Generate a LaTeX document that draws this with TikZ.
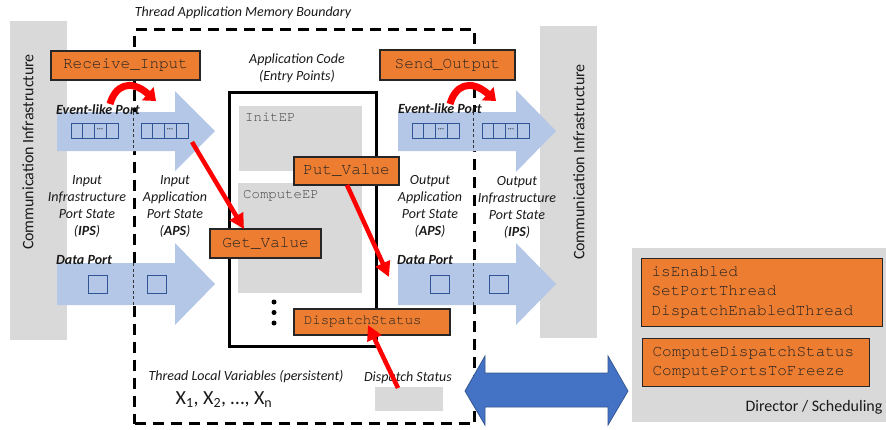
\documentclass[tikz,border=0pt]{standalone}
\usepackage{fontspec}
\setmainfont{Carlito}
\setmonofont{TeX Gyre Cursor}
\usetikzlibrary{arrows.meta}
\definecolor{orng}{HTML}{ED7D31}
\definecolor{lblue}{HTML}{B4C7E7}
\definecolor{dblue}{HTML}{4472C4}
\definecolor{qblue}{HTML}{2F5597}
\definecolor{lgray}{HTML}{D9D9D9}
\definecolor{txt}{HTML}{1A1A1A}
\definecolor{mtxt}{HTML}{222222}
\newcommand\myqueue[3]{%
  \node[qbox, anchor=north west, minimum width=47pt, minimum height=15pt] (#1) at (#2,#3) {};
  \draw[qline] ({#2+11.5},{#3}) -- ({#2+11.5},{#3+15});
  \draw[qline] ({#2+23},{#3}) -- ({#2+23},{#3+15});
  \draw[qline] ({#2+35},{#3}) -- ({#2+35},{#3+15});
  \node[font=\fontsize{8}{8}\selectfont, text=txt, inner sep=0pt] (#1dots) at ({#2+29},{#3+7.5}) {···};
}
\begin{document}
\begin{tikzpicture}[x=1pt,y=-1pt,
  graybox/.style={fill=lgray, draw=none, inner sep=0pt},
  obox/.style={fill=orng, draw=black!85, line width=1.1pt, text=mtxt, inner sep=0pt,
    font=\fontsize{16}{19.5}\selectfont\ttfamily},
  lbl/.style={font=\fontsize{14}{17}\selectfont\itshape, align=center, text=txt, inner sep=0pt},
  blbl/.style={font=\fontsize{14}{17}\selectfont\bfseries\itshape, text=txt, inner sep=0pt},
  qbox/.style={draw=qblue, line width=0.9pt, fill=none, inner sep=0pt},
  qline/.style={draw=qblue, line width=0.9pt},
  bnd/.style={draw=black, line width=3pt, dash pattern=on 11pt off 7pt, fill=none, inner sep=0pt},
  thindash/.style={draw=black!80, line width=0.7pt, dash pattern=on 3pt off 2.5pt},
  redarr/.style={draw=red, line width=4.5pt, -{Triangle[length=15pt,width=15pt]}},
  curvarr/.style={draw=red, line width=7pt, -{Triangle[length=11pt,width=17pt]}},
  bigarrow/.style={fill=lblue, draw=none},
  mono14/.style={font=\fontsize{14}{17}\selectfont\ttfamily, text=mtxt!85, inner sep=0pt},
]
\useasboundingbox (0,0) rectangle (886,429);

% communication infrastructure
\node[graybox, anchor=north west, minimum width=57pt, minimum height=319pt] (commL) at (10,21) {};
\node[graybox, anchor=north west, minimum width=57pt, minimum height=312pt] (commR) at (540,26) {};
\node[rotate=90, font=\fontsize{16}{19}\selectfont, text=txt, inner sep=0pt] (commLt) at (28,152) {Communication Infrastructure};
\node[rotate=90, font=\fontsize{16}{19}\selectfont, text=txt, inner sep=0pt] (commRt) at (579,162) {Communication Infrastructure};

% boundary
\node[bnd, anchor=north west, minimum width=340pt, minimum height=394pt] (tab) at (133,28) {};
\node[lbl] (tabt) at (243,13) {Thread Application Memory Boundary};

% big light blue arrows
\path[bigarrow] (57,112) -- (175,112) -- (175,91) -- (215,131) -- (175,171) -- (175,151) -- (57,151) -- cycle;
\path[bigarrow] (398,112) -- (516,112) -- (516,90) -- (556,131) -- (516,172) -- (516,151) -- (398,151) -- cycle;
\path[bigarrow] (57,263) -- (175,263) -- (175,243) -- (215,284) -- (175,325) -- (175,305) -- (57,305) -- cycle;
\path[bigarrow] (398,263) -- (516,263) -- (516,243) -- (556,284) -- (516,325) -- (516,305) -- (398,305) -- cycle;
\draw[thindash] (133,112) -- (133,151);
\draw[thindash] (133,263) -- (133,305);
\draw[thindash] (473,112) -- (473,151);
\draw[thindash] (473,263) -- (473,305);

% queues and data ports
\myqueue{q1}{71}{123}
\myqueue{q2}{141}{123}
\myqueue{q3}{412}{123}
\myqueue{q4}{482}{123}
\node[qbox, anchor=north west, minimum width=19pt, minimum height=18pt] (d1) at (88,275) {};
\node[qbox, anchor=north west, minimum width=19pt, minimum height=18pt] (d2) at (147,275) {};
\node[qbox, anchor=north west, minimum width=19pt, minimum height=18pt] (d3) at (430,275) {};
\node[qbox, anchor=north west, minimum width=19pt, minimum height=18pt] (d4) at (489,275) {};

\node[blbl] (evL) at (98,110) {Event-like Port};
\node[blbl] (evR) at (440,109) {Event-like Port};
\node[blbl] (dpL) at (84,260) {Data Port};
\node[blbl] (dpR) at (425,260) {Data Port};

\node[lbl] (ips1) at (87,206) {Input\\Infrastructure\\Port State\\(\textbf{IPS})};
\node[lbl] (aps1) at (175,206) {Input\\Application\\Port State\\(\textbf{APS})};
\node[lbl] (aps2) at (430,206) {Output\\Application\\Port State\\(\textbf{APS})};
\node[lbl] (ips2) at (517,207) {Output\\Infrastructure\\Port State\\(\textbf{IPS})};

% application code
\node[lbl] (appt) at (297,68) {Application Code\\(Entry Points)};
\node[draw=black, line width=3pt, fill=white, anchor=north west, minimum width=147pt, minimum height=254pt, inner sep=0pt] (app) at (228,91) {};
\node[graybox, anchor=north west, minimum width=123pt, minimum height=65pt] (init) at (239,106) {};
\node[graybox, anchor=north west, minimum width=124pt, minimum height=110pt] (comp) at (238,183) {};
\node[mono14, anchor=west] (initt) at (245,117) {InitEP};
\node[mono14, anchor=west] (compt) at (243,196) {ComputeEP};
\foreach \yy/\nm in {302/da,312.5/db,323/dc}
  \node[circle, fill=black, minimum size=5pt, inner sep=0pt] (\nm) at (274,\yy) {};

% orange boxes
\node[obox, minimum width=149pt, minimum height=29pt] (ri) at (125.5,65.5) {Receive\_Input};
\node[obox, minimum width=135pt, minimum height=30pt] (so) at (447.5,65) {Send\_Output};
\node[obox, minimum width=105pt, minimum height=28pt] (pv) at (346.5,171) {Put\_Value};
\node[obox, minimum width=111pt, minimum height=29pt] (gv) at (265.5,243.5) {Get\_Value};
\node[obox, font=\fontsize{14}{17}\selectfont\ttfamily, inner xsep=10pt, text width=136pt, align=left, minimum height=26pt] (ds) at (372,322) {DispatchStatus};

% thread local vars
\node[lbl] (tlv) at (246,377) {Thread Local Variables (persistent)};
\node[font=\fontsize{20}{24}\selectfont, text=txt, inner sep=0pt] (xs) at (224,400) {X\textsubscript{1}, X\textsubscript{2}, …, X\textsubscript{n}};
\node[lbl] (dst) at (408,378) {Dispatch Status};
\node[graybox, anchor=north west, minimum width=68pt, minimum height=24pt] (dsv) at (375,387) {};

% director
\node[graybox, anchor=north west, minimum width=254pt, minimum height=174pt] (dir) at (632,248) {};
\node[font=\fontsize{16}{19}\selectfont, text=txt, inner sep=0pt] (dirt) at (814,407) {Director / Scheduling};
\node[obox, anchor=north west, inner xsep=10pt, text width=221pt, align=left, minimum height=68pt] (db1) at (641,258) {isEnabled\\SetPortThread\\DispatchEnabledThread};
\node[obox, anchor=north west, inner xsep=10pt, text width=207pt, align=left, minimum height=48pt] (db2) at (642,338) {ComputeDispatchStatus\\ComputePortsToFreeze};

% double arrow
\path[fill=dblue, draw=dblue!75!black, line width=0.8pt] (465,391) -- (485,356) -- (485,373) -- (608,373) -- (608,356) -- (628,391) -- (608,425) -- (608,407) -- (485,407) -- (485,425) -- cycle;

% red arrows
\coordinate (riS) at (110,104);
\coordinate (riE) at (156,101);
\coordinate (soS) at (450,104);
\coordinate (soE) at (496,101);
\draw[curvarr] (riS) .. controls (115,86) and (130,78) .. (riE);
\draw[curvarr] (soS) .. controls (455,86) and (470,78) .. (soE);
\coordinate (gvS) at (192,142);
\coordinate (gvE) at (244,229);
\draw[redarr] (gvS) -- (gvE);
\coordinate (pvS) at (347,185);
\coordinate (pvE) at (389,277);
\draw[redarr] (pvS) -- (pvE);
\coordinate (dsS) at (398,388);
\coordinate (dsE) at (368,325);
\draw[redarr] (dsS) -- (dsE);
\end{tikzpicture}
\end{document}
